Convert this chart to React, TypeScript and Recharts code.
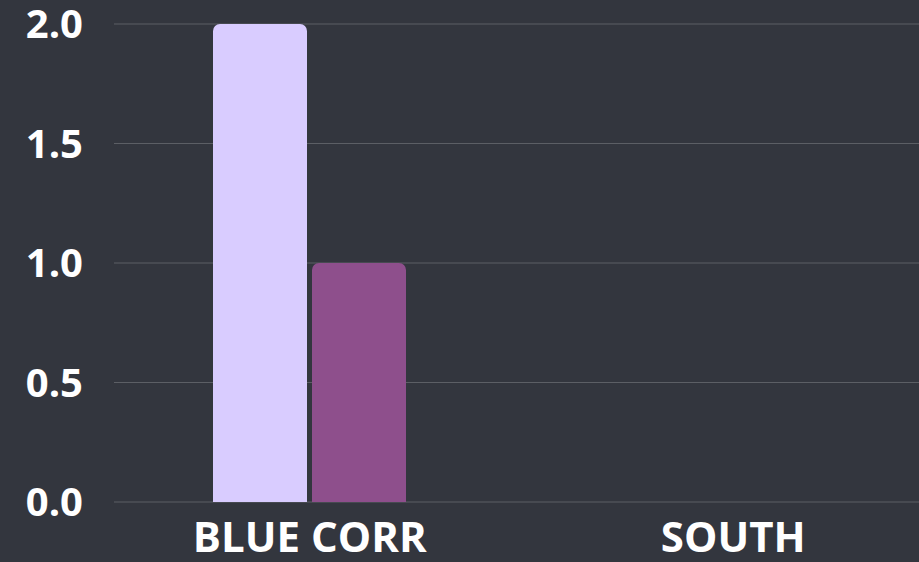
import { Bar, BarChart, CartesianGrid, XAxis, YAxis } from 'recharts'

const categorias = ['BLUE CORR', 'SOUTH']
const serieA = [2, 0]
const serieB = [1, 0]
const ticksY = [0, 0.5, 1, 1.5, 2]

const dados = categorias.map((nome, i) => ({
  nome,
  serieA: serieA[i],
  serieB: serieB[i],
}))

const fonte = '"Open Sans", sans-serif'

export default function App() {
  return (
    <div
      style={{
        position: 'absolute',
        left: 0,
        top: 0,
        width: 919,
        height: 562,
        overflow: 'hidden',
        background: '#33363e',
      }}
    >
      <BarChart
        width={945}
        height={562}
        data={dados}
        margin={{ top: 24, right: 0, left: 0, bottom: 0 }}
        barSize={94}
        barGap={5}
      >
        <CartesianGrid
          vertical={false}
          stroke="#5c5f65"
          x={114}
          width={831}
        />
        <XAxis
          dataKey="nome"
          height={60}
          axisLine={false}
          tickLine={false}
          tickMargin={14}
          tick={{ fill: '#ffffff', fontSize: 42, fontWeight: 700, fontFamily: fonte }}
        />
        <YAxis
          width={98}
          domain={[0, 2]}
          ticks={ticksY}
          axisLine={false}
          tickLine={false}
          tickMargin={9}
          tickFormatter={(v: number) => v.toFixed(1)}
          tick={{ fill: '#ffffff', fontSize: 40, fontWeight: 700, fontFamily: fonte }}
        />
        <Bar
          dataKey="serieA"
          name="Série A"
          fill="#d9ccff"
          radius={[7, 7, 0, 0]}
          isAnimationActive={false}
        />
        <Bar
          dataKey="serieB"
          name="Série B"
          fill="#8e4f8c"
          radius={[7, 7, 0, 0]}
          isAnimationActive={false}
        />
      </BarChart>
    </div>
  )
}
